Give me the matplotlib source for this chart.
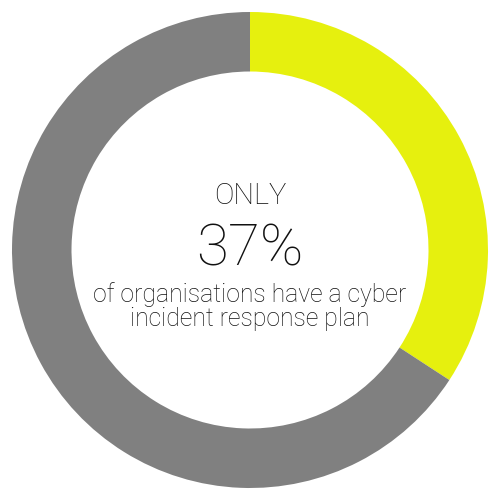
import matplotlib.pyplot as plt

# wedge shares as drawn (the label says 37%, the drawn arc is a bit smaller)
labels = ["have a plan", "no plan"]
shares = [34.2, 65.8]
colors = ["#e6f00e", "#808080"]

headline = "ONLY"
value_text = "37%"
caption = "of organisations have a cyber\nincident response plan"

fig = plt.figure(figsize=(5, 5), dpi=100)
ax = fig.add_axes([0, 0, 1, 1])
ax.pie(shares, colors=colors, startangle=90, counterclock=False,
       radius=1, wedgeprops=dict(width=0.25, edgecolor="none"))
lim = 250 / 238
ax.set_xlim(-lim, lim)
ax.set_ylim(-lim, lim)
ax.set_aspect("equal")
ax.axis("off")

font = "Roboto"
px = 238  # pixels per data unit
ax.text(0, (250 - 196) / px, headline, ha="center", va="center",
        fontsize=21, family=font, fontweight="light", color="#111111")
ax.text(0, (250 - 250) / px, value_text, ha="center", va="center",
        fontsize=42, family=font, fontweight="light", color="#111111")
ax.text(0, (250 - 307) / px, caption, ha="center", va="center",
        fontsize=17.8, family=font, fontweight="light", color="#111111",
        linespacing=1.0)

fig.savefig("out.png", dpi=100)
